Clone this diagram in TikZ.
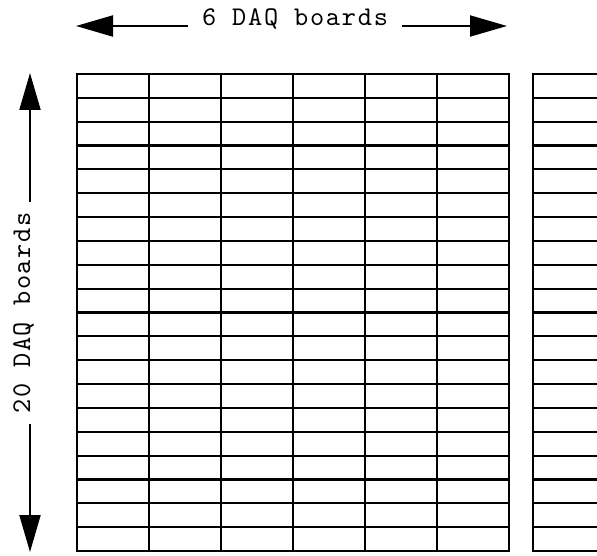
\documentclass[tikz,border=0pt]{standalone}
\usepackage{fontspec}
\newfontfamily\daqfont[Extension=.otf, LetterSpace=6.5]{lmmono10-regular}
\usetikzlibrary{arrows.meta}

\begin{document}
\begin{tikzpicture}[
  x=1pt, y=-1pt, line join=miter,
  gridline/.style={line width=2.2pt, line cap=rect},
  dim/.style={line width=2pt, -{Triangle[length=37pt, width=21pt]}},
  lbl/.style={font=\daqfont\fontsize{27}{30}\selectfont, inner sep=14pt, anchor=base}
]
  \useasboundingbox (0,0) rectangle (597,556);

  % ── First block of boards: 6 columns x 20 rows ───────────────────────────
  \foreach \c in {0,...,6}
    \draw[gridline] (77+\c*72, 74) -- (77+\c*72, 551);
  \foreach \r in {0,...,20}
    \draw[gridline] (77, 74+\r*23.85) -- (509, 74+\r*23.85);

  % ── Second block, cut off at the border ──────────────────────────────────
  \begin{scope}
    \clip (0,0) rectangle (597,556);
    \draw[gridline] (533, 74) -- (533, 551);
    \foreach \r in {0,...,20}
      \draw[gridline] (533, 74+\r*23.85) -- (620, 74+\r*23.85);
  \end{scope}

  % ── Width dimension ──────────────────────────────────────────────────────
  \node[lbl] (wlbl) at (295, 26) {6 DAQ boards};
  \coordinate (wleft)  at (76, 26);
  \coordinate (wright) at (507, 26);
  \draw[dim] (wlbl.base west) -- (wleft);
  \draw[dim] (wlbl.base east) -- (wright);

  % ── Height dimension ─────────────────────────────────────────────────────
  \node[lbl, rotate=90, inner sep=10pt] (hlbl) at (30, 313) {20 DAQ boards};
  \coordinate (htop)    at (30, 73);
  \coordinate (hbottom) at (30, 552);
  \draw[dim] (hlbl.base east) -- (htop);
  \draw[dim] (hlbl.base west) -- (hbottom);

\end{tikzpicture}
\end{document}
